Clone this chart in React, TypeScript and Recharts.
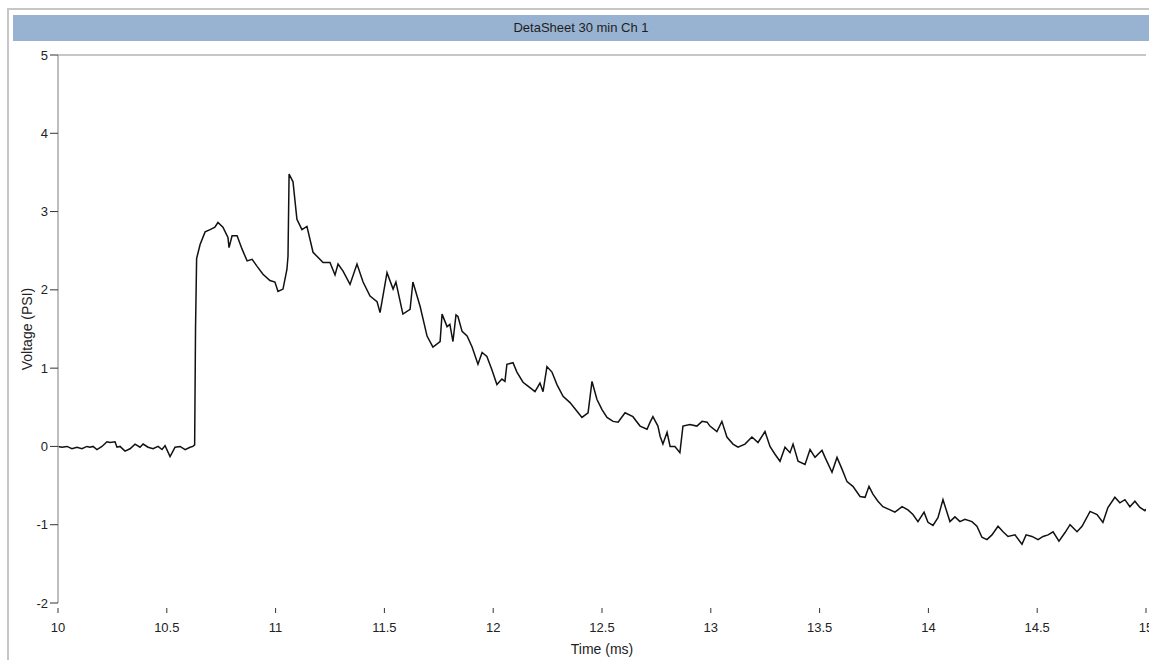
import { Line, LineChart, ReferenceLine, XAxis, YAxis } from 'recharts'

// Sample times (ms) for channel 1
const timeMs = [
  10.0, 10.018, 10.041, 10.064, 10.087, 10.11, 10.133, 10.147, 10.161, 10.179,
  10.202, 10.225, 10.239, 10.262, 10.271, 10.285, 10.308, 10.331, 10.354, 10.377,
  10.391, 10.414, 10.437, 10.46, 10.478, 10.492, 10.515, 10.538, 10.561, 10.584,
  10.607, 10.62, 10.628, 10.632, 10.637, 10.653, 10.676, 10.699, 10.721, 10.735,
  10.758, 10.781, 10.786, 10.8, 10.823, 10.846, 10.869, 10.892, 10.915, 10.942,
  10.974, 10.997, 11.011, 11.034, 11.052, 11.057, 11.062, 11.08, 11.098, 11.121,
  11.144, 11.172, 11.218, 11.25, 11.273, 11.287, 11.31, 11.342, 11.374, 11.402,
  11.434, 11.466, 11.48, 11.512, 11.54, 11.553, 11.585, 11.618, 11.631, 11.664,
  11.696, 11.723, 11.756, 11.765, 11.788, 11.801, 11.815, 11.829, 11.838, 11.857,
  11.88, 11.903, 11.93, 11.949, 11.971, 11.994, 12.017, 12.04, 12.054, 12.063,
  12.091, 12.109, 12.137, 12.16, 12.192, 12.215, 12.229, 12.247, 12.27, 12.293,
  12.321, 12.353, 12.385, 12.408, 12.436, 12.454, 12.477, 12.5, 12.523, 12.551,
  12.574, 12.606, 12.642, 12.675, 12.707, 12.721, 12.734, 12.757, 12.767, 12.78,
  12.799, 12.813, 12.835, 12.858, 12.872, 12.904, 12.936, 12.96, 12.983, 12.996,
  13.028, 13.051, 13.074, 13.102, 13.125, 13.157, 13.189, 13.217, 13.249, 13.272,
  13.295, 13.318, 13.341, 13.364, 13.378, 13.401, 13.433, 13.456, 13.479, 13.511,
  13.525, 13.557, 13.58, 13.603, 13.626, 13.653, 13.686, 13.709, 13.727, 13.745,
  13.768, 13.791, 13.824, 13.846, 13.879, 13.906, 13.929, 13.952, 13.98, 13.998,
  14.021, 14.044, 14.067, 14.099, 14.122, 14.145, 14.168, 14.2, 14.223, 14.246,
  14.269, 14.292, 14.32, 14.343, 14.366, 14.398, 14.43, 14.449, 14.476, 14.504,
  14.527, 14.55, 14.573, 14.6, 14.628, 14.651, 14.683, 14.706, 14.743, 14.775,
  14.802, 14.825, 14.857, 14.88, 14.903, 14.926, 14.949, 14.972, 14.995, 15.0,
]

// Pressure transducer reading (PSI)
const voltagePsi = [
  0.0, -0.01, 0.0, -0.03, -0.01, -0.03, 0.0, -0.01, 0.0, -0.04,
  0.0, 0.06, 0.05, 0.06, -0.01, 0.0, -0.06, -0.03, 0.03, -0.01,
  0.03, -0.01, -0.03, 0.0, -0.04, 0.01, -0.13, -0.01, 0.0, -0.04,
  -0.01, 0.0, 0.02, 1.5, 2.4, 2.58, 2.74, 2.77, 2.8, 2.86,
  2.8, 2.67, 2.54, 2.69, 2.69, 2.52, 2.37, 2.39, 2.3, 2.2,
  2.12, 2.1, 1.98, 2.01, 2.26, 2.43, 3.48, 3.38, 2.9, 2.77,
  2.81, 2.48, 2.35, 2.35, 2.19, 2.33, 2.24, 2.07, 2.33, 2.1,
  1.92, 1.85, 1.71, 2.22, 2.01, 2.1, 1.69, 1.75, 2.1, 1.79,
  1.41, 1.27, 1.34, 1.69, 1.53, 1.56, 1.34, 1.68, 1.66, 1.47,
  1.41, 1.27, 1.05, 1.2, 1.15, 0.98, 0.79, 0.86, 0.83, 1.05,
  1.07, 0.95, 0.82, 0.77, 0.7, 0.81, 0.7, 1.02, 0.95, 0.79,
  0.64, 0.56, 0.45, 0.37, 0.43, 0.83, 0.6, 0.47, 0.37, 0.32,
  0.31, 0.43, 0.38, 0.26, 0.22, 0.31, 0.38, 0.26, 0.13, 0.03,
  0.18, 0.0, 0.0, -0.08, 0.26, 0.28, 0.26, 0.32, 0.31, 0.26,
  0.19, 0.32, 0.12, 0.03, -0.01, 0.03, 0.12, 0.05, 0.19, 0.0,
  -0.1, -0.19, -0.01, -0.08, 0.03, -0.19, -0.23, -0.04, -0.14, -0.05,
  -0.14, -0.33, -0.14, -0.29, -0.45, -0.51, -0.64, -0.65, -0.51, -0.61,
  -0.7, -0.77, -0.81, -0.84, -0.77, -0.81, -0.87, -0.96, -0.84, -0.97,
  -1.01, -0.91, -0.68, -0.96, -0.9, -0.96, -0.93, -0.96, -1.02, -1.16,
  -1.19, -1.13, -1.02, -1.09, -1.15, -1.13, -1.25, -1.13, -1.15, -1.19,
  -1.15, -1.13, -1.09, -1.21, -1.1, -1.0, -1.09, -1.02, -0.83, -0.87,
  -0.97, -0.78, -0.65, -0.72, -0.68, -0.77, -0.7, -0.78, -0.82, -0.8,
]

const xTicks = [10, 10.5, 11, 11.5, 12, 12.5, 13, 13.5, 14, 14.5, 15]
const yTicks = [-2, -1, 0, 1, 2, 3, 4, 5]

const FONT = '"Liberation Sans", Arial, sans-serif'

// x ticks sit a little below the plot, detached from it
function TimeTick({ x, y, payload }: { x?: number; y?: number; payload?: { value: number } }) {
  if (x == null || y == null || !payload) return null
  return (
    <g>
      <line x1={x} x2={x} y1={y + 5} y2={y + 10} stroke="#333" />
      <text x={x} y={y + 29} textAnchor="middle" fontSize={13} fill="#222" fontFamily={FONT}>
        {payload.value}
      </text>
    </g>
  )
}

export default function App() {
  const data = timeMs.map((t, i) => ({ t, v: voltagePsi[i] }))

  return (
    <div style={{ position: 'relative', width: 1149, height: 660, background: '#fff', fontFamily: FONT }}>
      <style>{'body{margin:0;overflow:hidden}'}</style>

      {/* window frame */}
      <div
        style={{
          position: 'absolute',
          left: 7,
          top: 8,
          width: 1142,
          height: 652,
          borderTop: '2px solid #c6c6c6',
          borderLeft: '2px solid #c6c6c6',
          boxSizing: 'border-box',
        }}
      />

      {/* title strip */}
      <div
        style={{
          position: 'absolute',
          left: 13,
          top: 15,
          width: 1136,
          height: 26,
          background: '#98b2d1',
          color: '#1e1e1e',
          fontSize: 13,
          lineHeight: '26px',
          textAlign: 'center',
        }}
      >
        DetaSheet 30 min Ch 1
      </div>

      <div style={{ position: 'absolute', left: 0, top: 0 }}>
        <LineChart width={1149} height={660} data={data} margin={{ top: 55, right: 3, bottom: 0, left: 0 }}>
          <XAxis
            type="number"
            dataKey="t"
            domain={[10, 15]}
            ticks={xTicks}
            allowDataOverflow
            axisLine={false}
            tickLine={false}
            tickSize={0}
            tickMargin={0}
            height={57}
            tick={<TimeTick />}
            interval={0}
            label={{ value: 'Time (ms)', position: 'insideBottom', offset: 6, fill: '#222', fontSize: 14, fontFamily: FONT }}
          />
          <YAxis
            type="number"
            domain={[-2, 5]}
            ticks={yTicks}
            interval={0}
            width={58}
            tickSize={8}
            tickMargin={2}
            axisLine={{ stroke: '#a8a8a8', strokeWidth: 1.5 }}
            tickLine={{ stroke: '#333' }}
            tick={{ fill: '#222', fontSize: 13, fontFamily: FONT }}
            label={{
              value: 'Voltage (PSI)',
              angle: -90,
              position: 'insideLeft',
              offset: 27,
              style: { textAnchor: 'middle', fill: '#222', fontSize: 14, fontFamily: FONT },
            }}
          />
          <ReferenceLine y={5} stroke="#b4b4b4" strokeWidth={1.5} />
          <Line
            type="linear"
            dataKey="v"
            stroke="#111"
            strokeWidth={1.5}
            dot={false}
            isAnimationActive={false}
          />
        </LineChart>
      </div>
    </div>
  )
}
